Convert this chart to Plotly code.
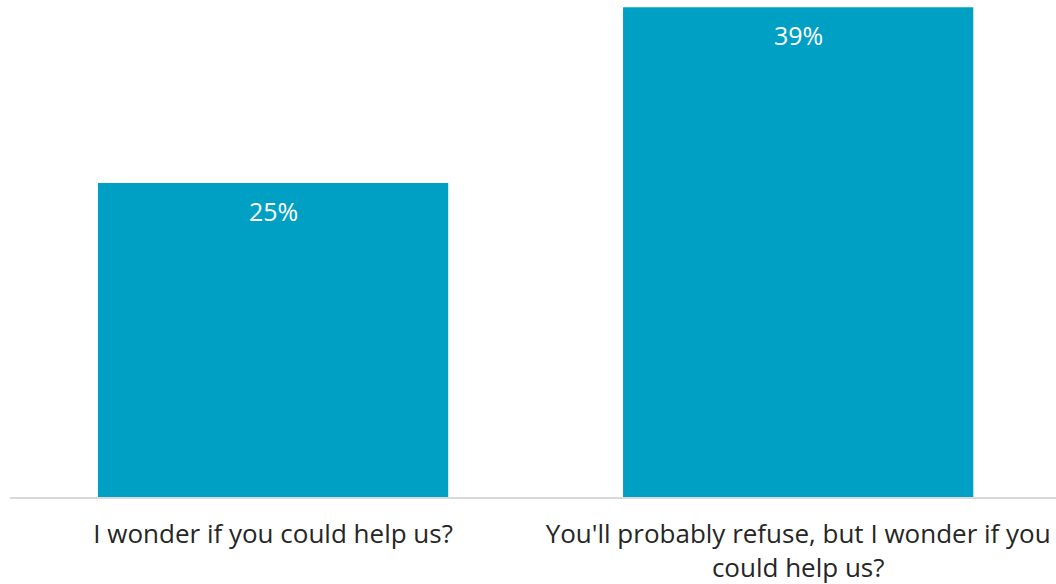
import plotly.graph_objects as go

categories = ["I wonder if you could help us?",
              "You'll probably refuse, but I wonder if you<br>could help us?"]
values = [25, 39]

bar_color = "#00A0C4"

fig = go.Figure()
fig.add_trace(go.Bar(
    x=[0, 1],
    y=values,
    width=0.667,
    marker=dict(color=bar_color, line=dict(width=0)),
    hoverinfo="skip",
))

# value labels just under the top of each bar
for i, v in enumerate(values):
    fig.add_annotation(
        x=i, y=v, text=f"{v}%", showarrow=False,
        yanchor="middle", yshift=-28,
        font=dict(family="Open Sans, sans-serif", size=25, color="white"),
    )

fig.update_layout(
    width=1056, height=584,
    margin=dict(l=10, r=0, t=0, b=87),
    paper_bgcolor="white", plot_bgcolor="white",
    showlegend=False,
    font=dict(family="Open Sans, sans-serif", color="#262626"),
    xaxis=dict(
        range=[-0.501, 1.491],
        tickmode="array", tickvals=[0, 1], ticktext=categories,
        tickfont=dict(size=26, color="#262626"),
        ticklabelstandoff=13,
        automargin=False,
        showline=True, linecolor="#D9D9D9", linewidth=2,
        showgrid=False, zeroline=False, ticks="", ticklen=0,
        fixedrange=True,
    ),
    yaxis=dict(
        range=[0, 39.57],
        visible=False, showgrid=False, zeroline=False,
        automargin=False,
        fixedrange=True,
    ),
)

fig.write_html("out.html")
